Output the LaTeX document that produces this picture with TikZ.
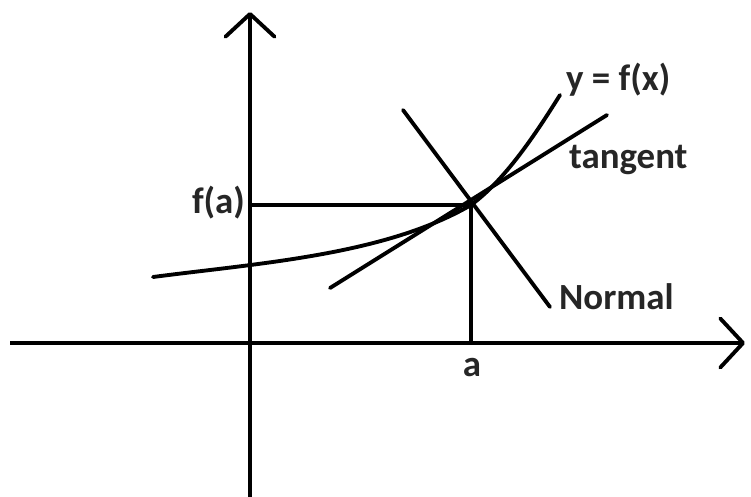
\documentclass[tikz,border=0pt]{standalone}
\usepackage{fontspec}
\setmainfont{Carlito}
\usepackage{tikz}
\usetikzlibrary{arrows.meta,positioning}
\tikzset{
  axis/.style={-{Straight Barb[length=13pt,width=28pt,round]},line width=2.2pt},
  crv/.style={line width=2.2pt,line cap=round,line join=round},
  lbl/.style={font=\fontsize{21}{21}\selectfont\bfseries,text=black!85,inner sep=1pt},
}
\begin{document}
\begin{tikzpicture}[x=0.02cm,y=-0.02cm]
\useasboundingbox (0,0) rectangle (751,497);
% axes
\coordinate (xstart) at (10,343);
\coordinate (xend) at (745,343);
\coordinate (ybot) at (250,497);
\coordinate (ytop) at (250,12);
\draw[axis] (xstart) -- (xend);
\draw[axis] (ybot) -- (ytop);
% point of contact
\coordinate (P) at (471,205);
\coordinate (Py) at (250,205);
\coordinate (Px) at (471,343);
\draw[crv] (Py) -- (P) -- (Px);
% curve, tangent, normal
\coordinate (cL) at (153,277);
\coordinate (cR) at (560,95);
\draw[crv] (cL) .. controls (260,263) and (385,255) .. (P)
           .. controls (505,180) and (535,135) .. (cR);
\coordinate (tL) at (330,288);
\coordinate (tR) at (607,115);
\draw[crv] (tL) -- (tR);
\coordinate (nT) at (403,110);
\coordinate (nB) at (550,307);
\draw[crv] (nT) -- (nB);
% labels
\node[lbl,anchor=east] (fa) at (247,203) {f(a)};
\node[lbl] (la) at (472,368) {a};
\node[lbl,anchor=west] (ly) at (564,80) {y = f(x)};
\node[lbl,anchor=west] (lt) at (567,160) {tangent};
\node[lbl,anchor=west] (ln) at (557,297) {Normal};
\end{tikzpicture}
\end{document}
